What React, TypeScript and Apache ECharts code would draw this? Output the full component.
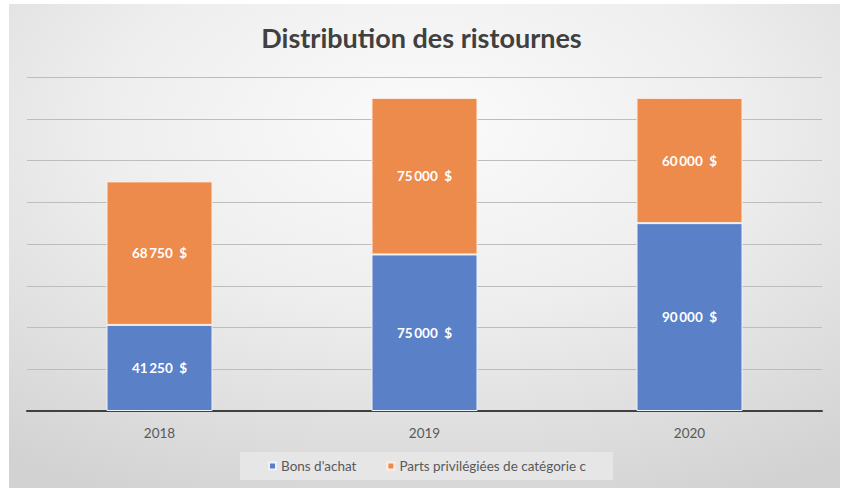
import React, { useEffect, useRef } from "react";
import * as echarts from "echarts";

const categories = ["2018", "2019", "2020"];
const bonsAchat = [41250, 75000, 90000];
const partsPrivilegiees = [68750, 75000, 60000];
const seriesNames = ["Bons d'achat", "Parts privilégiées de catégorie c"];
const titleText = "Distribution des ristournes";

const fmt = (v: number) => {
  const s = Math.round(v).toString().replace(/\B(?=(\d{3})+(?!\d))/g, "\u2009");
  return s + "  $";
};

export default function App() {
  const ref = useRef<HTMLDivElement>(null);
  useEffect(() => {
    document.body.style.margin = "0";
    if (!ref.current) return;
    const chart = echarts.init(ref.current, null, { renderer: "svg" });
    const font = "Lato, Carlito, 'Liberation Sans', sans-serif";
    const labelStyle = {
      show: true,
      position: "inside",
      color: "#ffffff",
      fontFamily: font,
      fontWeight: "bold",
      fontSize: 13.5,
      formatter: (p: any) => fmt(p.value),
    };
    chart.setOption({
      animation: false,
      backgroundColor: "#ffffff",
      graphic: [
        {
          type: "rect",
          z: -10,
          silent: true,
          shape: { x: 9, y: 4, width: 831, height: 484 },
          style: {
            fill: new echarts.graphic.RadialGradient(0.5, 0.25, 0.85, [
              { offset: 0, color: "#fbfbfb" },
              { offset: 0.45, color: "#eeeeee" },
              { offset: 1, color: "#d2d2d2" },
            ]),
          },
        },
      ],
      title: {
        text: titleText,
        left: "center",
        top: 19,
        textStyle: {
          fontFamily: font,
          fontSize: 27,
          fontWeight: "bold",
          color: "#404040",
        },
      },
      legend: {
        data: seriesNames,
        top: 452,
        left: 240,
        icon: "rect",
        itemWidth: 7,
        itemHeight: 7,
        itemGap: 30,
        backgroundColor: "#e6e6e6",
        padding: [7, 27, 7, 28],
        textStyle: { fontFamily: font, fontSize: 13.5, color: "#595959" },
      },
      grid: { left: 27, right: 21, top: 77, bottom: 77, containLabel: false },
      xAxis: {
        type: "category",
        data: categories,
        axisLine: { show: true, lineStyle: { color: "#404040", width: 2 } },
        axisTick: { show: false },
        axisLabel: {
          fontFamily: font,
          fontSize: 13.5,
          color: "#595959",
          margin: 15,
        },
      },
      yAxis: {
        type: "value",
        min: 0,
        max: 160000,
        interval: 20000,
        axisLabel: { show: false },
        axisLine: { show: false },
        axisTick: { show: false },
        splitLine: { lineStyle: { color: "#bdbdbd", width: 1 } },
      },
      series: [
        {
          name: seriesNames[0],
          type: "bar",
          stack: "total",
          data: bonsAchat,
          barWidth: "40%",
          itemStyle: { color: "#5a80c8", borderColor: "#eef2fa", borderWidth: 1 },
          label: labelStyle,
        },
        {
          name: seriesNames[1],
          type: "bar",
          stack: "total",
          data: partsPrivilegiees,
          barWidth: "40%",
          itemStyle: { color: "#ed8b4c", borderColor: "#fbeee4", borderWidth: 1 },
          label: labelStyle,
        },
      ],
    });
    return () => chart.dispose();
  }, []);
  return <div ref={ref} style={{ width: 843, height: 488 }} />;
}
